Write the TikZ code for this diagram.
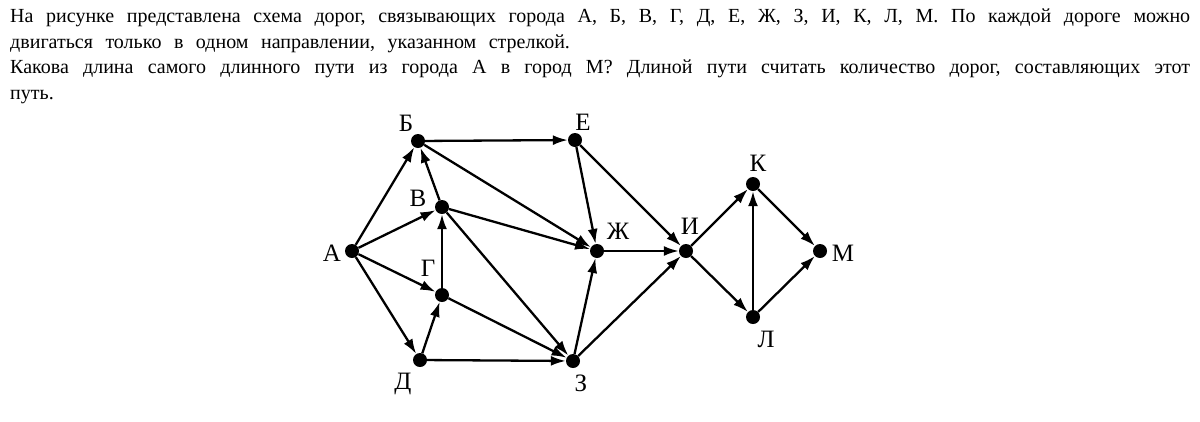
\documentclass[tikz,border=0pt]{standalone}
\usepackage{fontspec}
\setmainfont{Liberation Serif}
\usetikzlibrary{arrows.meta}
\begin{document}
\begin{tikzpicture}[x=1pt,y=-1pt,
  city/.style={circle,fill=black,inner sep=0pt,minimum size=14pt},
  lbl/.style={font=\fontsize{25}{29}\selectfont,inner sep=0pt},
  road/.style={line width=2.3pt,-{Latex[length=15pt,width=10pt]}}]
\useasboundingbox (0,0) rectangle (1200,421);
\node[anchor=north west,text width=1180pt,align=justify,inner sep=0pt,
  font=\fontsize{20}{25.5}\selectfont] (txt) at (10,9)
  {\hyphenpenalty=10000\parindent=0pt\frenchspacing\spaceskip=12.5pt plus 5pt minus 1.5pt На рисунке представлена схема дорог, связывающих города А, Б, В, Г, Д, Е, Ж, З, И, К, Л, М. По каждой дороге можно\linebreak двигаться только в одном направлении, указанном стрелкой.\par Какова длина самого длинного пути из города А в город М? Длиной пути считать количество дорог, составляющих этот\linebreak путь.};
% cities
\node[city] (A) at (352,251) {};
\node[city] (B) at (418,141) {};
\node[city] (V) at (442,207) {};
\node[city] (G) at (442,295) {};
\node[city] (D) at (420,360) {};
\node[city] (E) at (575,140) {};
\node[city] (Zh) at (597,251) {};
\node[city] (Z) at (573,361) {};
\node[city] (I) at (686,251) {};
\node[city] (K) at (753,184) {};
\node[city] (L) at (753,317) {};
\node[city] (M) at (820,251) {};
% labels
\node[lbl] (lA) at (332,253) {А};
\node[lbl] (lB) at (406,123) {Б};
\node[lbl] (lV) at (418,198) {В};
\node[lbl] (lG) at (428,268) {Г};
\node[lbl] (lD) at (403,384) {Д};
\node[lbl] (lE) at (583,122) {Е};
\node[lbl] (lZh) at (618,231) {Ж};
\node[lbl] (lZ) at (581,383) {З};
\node[lbl] (lI) at (690,226) {И};
\node[lbl] (lK) at (758,163) {К};
\node[lbl] (lL) at (766,339) {Л};
\node[lbl] (lM) at (843,253) {М};
% roads
\draw[road] (A) -- (B);
\draw[road] (A) -- (V);
\draw[road] (A) -- (G);
\draw[road] (A) -- (D);
\draw[road] (B) -- (E);
\draw[road] (B) -- (Zh);
\draw[road] (V) -- (B);
\draw[road] (V) -- (Zh);
\draw[road] (V) -- (Z);
\draw[road] (G) -- (V);
\draw[road] (G) -- (Z);
\draw[road] (D) -- (G);
\draw[road] (D) -- (Z);
\draw[road] (E) -- (Zh);
\draw[road] (E) -- (I);
\draw[road] (Zh) -- (I);
\draw[road] (Z) -- (Zh);
\draw[road] (Z) -- (I);
\draw[road] (I) -- (K);
\draw[road] (I) -- (L);
\draw[road] (L) -- (K);
\draw[road] (K) -- (M);
\draw[road] (L) -- (M);
\end{tikzpicture}
\end{document}
